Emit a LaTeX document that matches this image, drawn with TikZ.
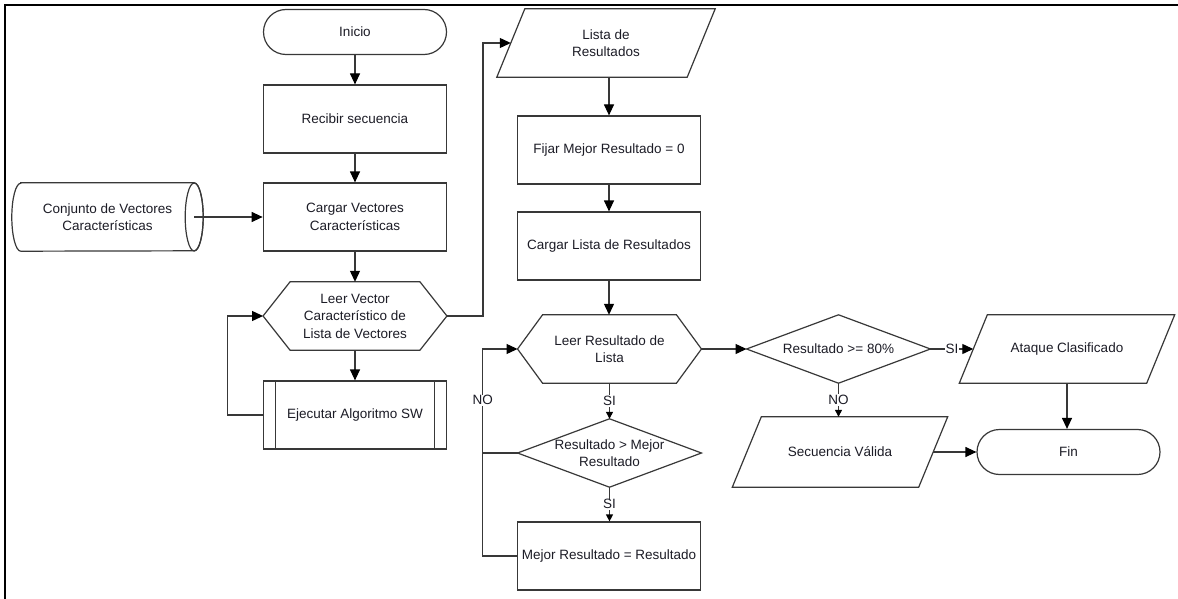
\documentclass[tikz,border=0pt]{standalone}
\usepackage{fontspec}
\setmainfont{Liberation Sans}
\usetikzlibrary{arrows.meta,calc}
\definecolor{edge}{HTML}{383838}
\definecolor{ink}{HTML}{1C1C26}

\begin{document}
\begin{tikzpicture}[x=1pt,y=-1pt,
  every node/.style={font=\fontsize{13.5}{17.5}\selectfont, text=ink, align=center, inner sep=0pt},
  box/.style={draw=edge, line width=1.2pt, minimum width=183.5pt, minimum height=68pt},
  term/.style={draw=edge, line width=1.2pt, rounded corners=22.5pt, minimum width=183pt, minimum height=45pt},
  body/.style={minimum width=183.5pt, minimum height=68pt},
  outline/.style={draw=edge, line width=1.2pt},
  wire/.style={draw=edge, line width=1.2pt},
  flow/.style={draw=edge, line width=1.2pt, -{Triangle[length=11pt,width=10pt,color=black]}},
  flowsm/.style={draw=edge, line width=1.2pt, -{Triangle[length=7pt,width=7pt,color=black]}},
  tag/.style={fill=white, inner sep=1pt}
]
\useasboundingbox (0,0) rectangle (1178,599);
\fill[white] (0,0) rectangle (1178,599);
% page frame (left and top edges)
\draw[line width=2.5pt, black] (5,599) -- (5,5) -- (1178,5);

% ---- left column ----
\node[term] (inicio) at (355,32) {Inicio};
\node[box] (recibir) at (355,119) {Recibir secuencia};
\node[box] (cargarv) at (355,217) {Cargar Vectores\\Características};

% stored data (horizontal cylinder)
\node[minimum width=191pt, minimum height=68pt] (cyl) at (107.5,217) {Conjunto de Vectores\\Características};
\draw[outline] ([xshift=9pt]cyl.north west) -- ([xshift=-9pt]cyl.north east)
  arc[start angle=90, end angle=-90, x radius=9pt, y radius=34pt]
  -- ([xshift=9pt]cyl.south west)
  arc[start angle=-90, end angle=-270, x radius=9pt, y radius=34pt] -- cycle;
\draw[outline] ([xshift=-9pt]cyl.east) ellipse[x radius=9pt, y radius=34pt];
\coordinate (cylmouth) at ([xshift=-9pt]cyl.east);

% loop preparation (hexagon)
\node[body] (leerv) at (355,316) {Leer Vector\\Característico de\\Lista de Vectores};
\draw[outline] (leerv.west) -- ([xshift=27pt]leerv.north west) -- ([xshift=-27pt]leerv.north east)
  -- (leerv.east) -- ([xshift=-27pt]leerv.south east) -- ([xshift=27pt]leerv.south west) -- cycle;

% predefined process
\node[box] (ejec) at (355,415) {Ejecutar Algoritmo SW};
\draw[outline] ([xshift=13pt]ejec.north west) -- ([xshift=13pt]ejec.south west);
\draw[outline] ([xshift=-13pt]ejec.north east) -- ([xshift=-13pt]ejec.south east);

% ---- middle column ----
\node[minimum width=190pt, minimum height=68pt] (lista) at (606,43) {Lista de\\Resultados};
\draw[outline] ([xshift=14pt]lista.north west) -- ([xshift=14pt]lista.north east)
  -- ([xshift=-14pt]lista.south east) -- ([xshift=-14pt]lista.south west) -- cycle;

\node[box] (fijar) at (609,150) {Fijar Mejor Resultado = 0};
\node[box] (cargarl) at (609,246) {Cargar Lista de Resultados};

\node[body] (leerr) at (609.5,349) {Leer Resultado de\\Lista};
\draw[outline] (leerr.west) -- ([xshift=25pt]leerr.north west) -- ([xshift=-25pt]leerr.north east)
  -- (leerr.east) -- ([xshift=-25pt]leerr.south east) -- ([xshift=25pt]leerr.south west) -- cycle;

\node[body] (dmejor) at (609.5,453) {Resultado > Mejor\\Resultado};
\draw[outline] (dmejor.west) -- (dmejor.north) -- (dmejor.east) -- (dmejor.south) -- cycle;

\node[box] (mejor) at (609,556) {Mejor Resultado = Resultado};

% ---- right part ----
\node[body] (d80) at (838.5,349) {Resultado >= 80\%};
\draw[outline] (d80.west) -- (d80.north) -- (d80.east) -- (d80.south) -- cycle;

\node[minimum width=187pt, minimum height=68pt] (ataque) at (1067,349) {Ataque Clasificado};
\draw[outline] ([xshift=14pt]ataque.north west) -- ([xshift=14pt]ataque.north east)
  -- ([xshift=-14pt]ataque.south east) -- ([xshift=-14pt]ataque.south west) -- cycle;

\node[minimum width=186pt, minimum height=70pt] (secuencia) at (840,452) {Secuencia Válida};
\draw[outline] ([xshift=14.5pt]secuencia.north west) -- ([xshift=14.5pt]secuencia.north east)
  -- ([xshift=-14.5pt]secuencia.south east) -- ([xshift=-14.5pt]secuencia.south west) -- cycle;

\node[term] (fin) at (1068.5,452) {Fin};

% ---- connectors ----
\draw[flow] (inicio.south) -- (recibir.north);
\draw[flow] (recibir.south) -- (cargarv.north);
\draw[flow] (cylmouth) -- (cargarv.west);
\draw[flow] (cargarv.south) -- (leerv.north);
\draw[flow] (leerv.south) -- (ejec.north);
\draw[flow] (ejec.west) -- ++(-35,0) |- (leerv.west);
\draw[flow] (leerv.east) -- ++(36,0) |- (lista.west);
\draw[flow] (lista.south -| fijar.north) -- (fijar.north);
\draw[flow] (fijar.south) -- (cargarl.north);
\draw[flow] (cargarl.south) -- (cargarl.south |- leerr.north);
\draw[flowsm] (leerr.south) -- node[tag]{SI} (dmejor.north);
\draw[flowsm] (dmejor.south) -- node[tag]{SI} (dmejor.south |- mejor.north);
\coordinate (noline) at ([xshift=-34pt]mejor.west);
\draw[flow] (mejor.west) -- (noline) |- node[tag, pos=0.376]{NO} (leerr.west);
\draw[wire] (dmejor.west) -- (dmejor.west -| noline);
\draw[flow] (leerr.east) -- (d80.west);
\draw[flow] (d80.east) -- node[tag]{SI} (ataque.west);
\draw[flowsm] (d80.south) -- node[tag]{NO} (d80.south |- secuencia.north);
\draw[flow] (ataque.south) -- (ataque.south |- fin.north);
\draw[flow] (secuencia.east) -- (secuencia.east -| fin.west);
\end{tikzpicture}
\end{document}
